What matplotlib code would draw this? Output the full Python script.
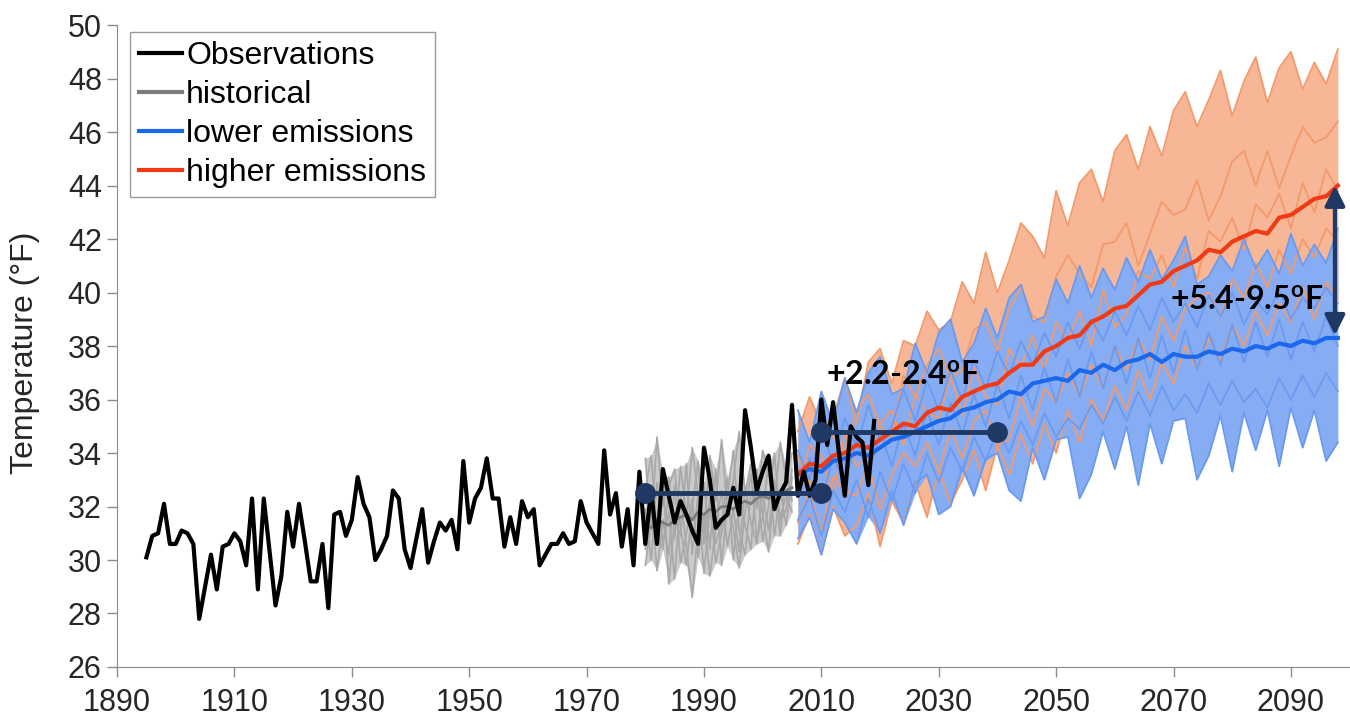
import matplotlib
matplotlib.use('Agg')
import matplotlib.pyplot as plt
import numpy as np

plt.rcParams['font.family'] = ['Liberation Sans', 'DejaVu Sans']
plt.rcParams['mathtext.fontset'] = 'custom'
plt.rcParams['mathtext.bf'] = 'Lato:bold'
plt.rcParams['mathtext.rm'] = 'Lato'

# observed annual mean temperature, 1895-2019
obs_years = np.arange(1895, 2020)
obs_temp = [30.1, 30.9, 31.0, 32.1, 30.6, 30.6, 31.1, 31.0, 30.6, 27.8,
            29.0, 30.2, 28.9, 30.5, 30.6, 31.0, 30.7, 29.8, 32.3, 28.9,
            32.3, 30.3, 28.3, 29.4, 31.8, 30.5, 32.1, 30.7, 29.2, 29.2,
            30.6, 28.2, 31.7, 31.8, 30.9, 31.5, 33.1, 32.1, 31.6, 30.0,
            30.4, 30.9, 32.6, 32.3, 30.4, 29.7, 30.8, 31.9, 29.9, 30.7,
            31.4, 31.1, 31.5, 30.4, 33.7, 31.4, 32.3, 32.7, 33.8, 32.3,
            32.3, 30.5, 31.6, 30.6, 32.2, 31.6, 31.9, 29.8, 30.2, 30.6,
            30.6, 31.0, 30.6, 30.7, 32.2, 31.4, 31.0, 30.6, 34.1, 31.7,
            32.5, 30.5, 31.9, 29.8, 33.3, 30.6, 32.6, 30.6, 33.4, 32.4,
            31.4, 32.2, 31.7, 31.1, 30.6, 34.2, 33.0, 31.2, 31.5, 31.7,
            32.7, 31.7, 35.6, 34.2, 32.6, 33.3, 33.9, 31.9, 32.5, 32.9,
            35.8, 32.4, 33.3, 32.4, 33.0, 36.0, 34.3, 35.9, 34.0, 32.4,
            35.0, 34.6, 34.4, 32.8, 35.2]

# historical model runs 1980-2005
hist_years = np.arange(1980, 2006)
hist_runs = [
    [33.8, 31.2, 34.6, 32.0, 33.1, 30.8, 33.5, 31.6, 34.2, 32.4, 31.0, 33.9, 32.2,
     34.5, 31.8, 33.0, 34.8, 32.5, 33.6, 31.9, 34.1, 33.2, 32.0, 34.4, 33.0, 34.0],
    [30.4, 32.1, 29.6, 31.5, 30.2, 32.8, 29.9, 31.0, 32.3, 30.1, 31.7, 29.4, 31.2,
     32.6, 30.5, 31.9, 30.3, 32.7, 31.4, 30.6, 32.5, 31.1, 33.0, 31.6, 32.4, 31.8],
    [31.9, 30.0, 32.9, 30.6, 31.8, 29.3, 32.4, 30.5, 28.6, 31.3, 32.9, 30.4, 33.4,
     29.8, 32.1, 31.2, 29.7, 31.8, 33.2, 30.8, 31.6, 33.7, 30.9, 32.6, 31.3, 33.1],
    [29.8, 31.4, 30.7, 33.2, 29.1, 31.6, 30.9, 33.6, 30.2, 32.5, 29.5, 31.9, 30.6,
     31.4, 33.1, 30.0, 32.2, 31.3, 30.4, 33.4, 31.7, 30.3, 32.8, 30.9, 33.5, 32.2],
    [32.6, 33.9, 31.0, 30.4, 32.7, 33.4, 31.2, 29.8, 31.9, 33.7, 30.6, 32.3, 29.9,
     31.0, 32.4, 34.1, 31.1, 30.2, 32.5, 32.9, 30.7, 32.0, 34.0, 31.4, 31.9, 33.4],
]
hist_mean = [31.3, 31.2, 31.5, 31.4, 31.3, 31.5, 31.6, 31.7, 31.5, 31.8, 31.7, 31.9, 31.8,
             32.0, 32.0, 31.9, 32.1, 32.2, 32.1, 32.3, 32.4, 32.3, 32.5, 32.4, 32.6, 32.7]

# scenario runs, every second year 2006-2098
fut_years = np.arange(2006, 2100, 2)
high_mean = [33.2, 33.6, 33.5, 33.9, 34.0, 34.3, 34.2, 34.5, 34.8, 35.1,
             35.0, 35.5, 35.7, 35.6, 36.1, 36.3, 36.5, 36.6, 37.0, 37.3,
             37.3, 37.8, 38.0, 38.3, 38.4, 38.9, 39.1, 39.4, 39.5, 39.9,
             40.3, 40.4, 40.8, 41.0, 41.2, 41.6, 41.5, 41.9, 42.1, 42.3,
             42.2, 42.8, 42.9, 43.2, 43.5, 43.6, 44.0]
low_mean = [33.2, 33.4, 33.3, 33.7, 33.8, 34.0, 33.9, 34.2, 34.5, 34.6,
            34.8, 35.0, 35.2, 35.3, 35.6, 35.7, 35.9, 36.0, 36.3, 36.2,
            36.6, 36.7, 36.8, 36.7, 37.1, 37.0, 37.3, 37.1, 37.4, 37.5,
            37.7, 37.4, 37.7, 37.6, 37.6, 37.8, 37.7, 37.9, 37.8, 38.0,
            37.9, 38.1, 38.0, 38.2, 38.1, 38.3, 38.3]
high_runs = [
    [34.8, 36.1, 35.0, 35.3, 36.8, 35.1, 37.4, 37.9, 36.6, 38.2,
     38.0, 39.3, 38.6, 38.9, 40.4, 39.6, 41.5, 40.0, 41.2, 42.6,
     42.1, 41.3, 43.8, 42.5, 44.1, 44.6, 43.4, 45.3, 45.9, 44.6,
     46.2, 45.1, 46.8, 47.5, 46.2, 47.2, 48.3, 46.6, 47.9, 48.8,
     47.1, 48.4, 49.0, 47.6, 48.6, 47.8, 49.1],
    [33.9, 32.8, 35.2, 34.6, 34.1, 35.6, 36.2, 35.0, 34.6, 36.9,
     36.1, 37.3, 37.9, 36.8, 37.1, 38.6, 38.9, 37.8, 39.4, 40.2,
     39.1, 38.9, 40.6, 41.4, 40.7, 40.2, 41.8, 41.9, 42.6, 41.0,
     42.2, 43.4, 42.9, 43.1, 44.2, 42.7, 43.6, 44.9, 45.3, 44.0,
     45.3, 43.9, 45.1, 46.2, 45.6, 45.8, 46.4],
    [32.6, 34.3, 33.9, 32.4, 34.8, 33.5, 33.9, 35.1, 35.6, 34.3,
     36.2, 35.5, 35.3, 36.9, 35.4, 37.2, 36.1, 35.8, 37.9, 37.2,
     38.4, 37.1, 38.9, 38.2, 39.3, 38.0, 40.1, 38.7, 39.2, 40.8,
     40.5, 41.4, 40.2, 41.7, 40.5, 42.3, 41.9, 42.8, 41.6, 43.3,
     42.8, 43.7, 42.4, 44.1, 43.0, 44.6, 43.8],
    [31.4, 32.6, 31.0, 33.1, 32.6, 32.4, 33.6, 31.9, 33.2, 34.0,
     33.5, 34.4, 33.3, 34.9, 33.8, 35.2, 35.6, 34.3, 34.5, 36.1,
     35.0, 36.4, 35.9, 37.0, 36.1, 37.3, 36.4, 38.0, 37.1, 38.3,
     37.5, 39.1, 38.2, 39.4, 39.8, 40.0, 39.1, 40.5, 39.8, 41.1,
     40.2, 41.6, 40.7, 42.0, 41.3, 42.4, 41.9],
    [30.6, 31.7, 30.2, 32.0, 30.9, 31.3, 32.5, 30.5, 32.2, 31.4,
     32.9, 31.6, 33.4, 32.1, 33.0, 34.1, 32.6, 34.3, 33.2, 34.7,
     33.6, 35.1, 34.0, 35.6, 34.4, 36.0, 35.2, 36.5, 35.6, 37.1,
     36.0, 37.4, 36.6, 38.0, 37.1, 38.3, 37.5, 38.8, 38.0, 39.3,
     38.4, 39.6, 38.9, 40.2, 39.0, 40.4, 39.8],
]
low_runs = [
    [35.6, 34.4, 36.3, 35.1, 36.8, 35.5, 37.0, 37.6, 36.2, 36.4,
     38.1, 37.0, 38.5, 39.0, 37.4, 38.1, 39.4, 38.3, 39.8, 40.3,
     38.9, 39.1, 40.5, 39.6, 41.0, 39.8, 40.9, 40.1, 41.3, 40.4,
     41.6, 40.5, 41.2, 42.1, 40.3, 40.6, 41.4, 40.8, 42.0, 40.9,
     41.6, 40.7, 42.2, 41.0, 41.8, 41.1, 42.4],
    [34.1, 33.0, 34.9, 33.6, 35.3, 34.2, 35.8, 34.5, 35.0, 36.4,
     35.2, 36.7, 35.6, 37.1, 36.0, 37.5, 36.4, 37.8, 36.9, 38.2,
     37.3, 38.5, 37.6, 38.9, 37.9, 39.0, 38.2, 39.3, 38.4, 39.5,
     38.6, 39.8, 38.9, 39.6, 38.7, 39.9, 39.1, 40.0, 38.8, 39.7,
     39.2, 40.1, 39.0, 39.8, 39.4, 40.2, 39.6],
    [32.4, 33.8, 32.1, 33.9, 32.8, 34.5, 33.1, 34.8, 33.5, 35.1,
     33.9, 35.6, 34.3, 35.9, 34.7, 36.2, 35.0, 36.6, 35.3, 36.9,
     35.6, 37.2, 35.9, 37.5, 36.1, 37.8, 36.4, 38.0, 36.6, 38.3,
     36.8, 38.4, 37.0, 38.6, 37.1, 38.5, 37.3, 38.8, 37.4, 38.9,
     37.6, 39.0, 37.5, 38.9, 37.8, 39.1, 38.0],
    [31.5, 32.4, 30.9, 32.6, 31.8, 33.0, 31.6, 33.3, 32.2, 33.6,
     32.5, 34.0, 32.9, 34.2, 33.3, 34.6, 33.7, 34.9, 34.0, 35.2,
     34.3, 35.5, 34.6, 35.3, 34.9, 35.8, 35.1, 36.1, 35.2, 36.3,
     35.4, 36.5, 35.6, 36.2, 35.5, 36.6, 35.8, 36.7, 35.9, 36.4,
     35.7, 36.8, 36.0, 36.9, 36.1, 37.0, 36.3],
    [30.8, 31.6, 30.2, 31.9, 31.4, 30.6, 32.3, 31.0, 32.6, 31.3,
     32.9, 33.2, 31.7, 32.0, 33.5, 32.4, 33.8, 34.0, 32.6, 32.2,
     34.2, 33.0, 34.5, 34.6, 32.3, 33.2, 34.8, 33.4, 35.0, 32.8,
     35.1, 33.6, 35.2, 35.3, 33.0, 33.9, 35.4, 33.3, 35.5, 34.1,
     35.6, 33.5, 35.7, 34.2, 35.6, 33.7, 34.4],
]

# annotations
bar1_years, bar1_level = [1980, 2010], 32.5
bar2_years, bar2_level = [2010, 2040], 34.8
arrow_year, arrow_top, arrow_bot = 2097.5, 44.0, 38.4

navy = '#203864'
gray_run, gray_mean = '#a8a8a8', '#7d7d7d'
orange_run, red_mean = '#f4996a', '#f03a16'
blue_run, blue_mean = '#6a9af0', '#1c68ec'

fig = plt.figure(figsize=(13.5, 7.21), dpi=100)
ax = fig.add_axes([0.0867, 0.0749, 0.913, 0.8904])

# ensemble spread filled between the lowest and highest run
hist_arr = np.array(hist_runs)
ax.fill_between(hist_years, hist_arr.min(axis=0), hist_arr.max(axis=0),
                color=gray_run, alpha=0.6, lw=0)
for run in hist_runs:
    ax.plot(hist_years, run, color=gray_run, lw=1.2)
ax.plot(hist_years, hist_mean, color=gray_mean, lw=2)

high_arr = np.array(high_runs)
low_arr = np.array(low_runs)
ax.fill_between(fut_years, high_arr.min(axis=0), high_arr.max(axis=0),
                color=orange_run, alpha=0.7, lw=0)
ax.fill_between(fut_years, low_arr.min(axis=0), low_arr.max(axis=0),
                color='#86adf3', lw=0)
for run in high_runs:
    ax.plot(fut_years, run, color=orange_run, lw=1.3)
for run in low_runs:
    ax.plot(fut_years, run, color=blue_run, lw=1.3)

ax.plot(fut_years, low_mean, color=blue_mean, lw=3)
ax.plot(fut_years, high_mean, color=red_mean, lw=3)
ax.plot(obs_years, obs_temp, color='black', lw=3)

ax.plot(bar1_years, [bar1_level] * 2, '-o', color=navy, lw=3.5, ms=14, zorder=5)
ax.plot(bar2_years, [bar2_level] * 2, '-o', color=navy, lw=3.5, ms=14, zorder=5)
ax.annotate('', xy=(arrow_year, arrow_top), xytext=(arrow_year, arrow_bot),
            arrowprops=dict(arrowstyle='<|-|>', color=navy, lw=3, mutation_scale=30,
                            shrinkA=0, shrinkB=0), zorder=6)
ax.text(2010.8, 36.9, r'+2.2-2.4$^{\mathbf{o}}$F', family='Lato', fontweight='bold',
        fontsize=23, va='center', ha='left', zorder=7)
ax.text(2069.4, 39.7, r'+5.4-9.5$^{\mathbf{o}}$F', family='Lato', fontweight='bold',
        fontsize=23, va='center', ha='left', zorder=7)

# legend proxies
ax.plot([], [], color='black', lw=3, label='Observations')
ax.plot([], [], color=gray_mean, lw=3, label='historical')
ax.plot([], [], color=blue_mean, lw=3, label='lower emissions')
ax.plot([], [], color=red_mean, lw=3, label='higher emissions')
handles, labels = ax.get_legend_handles_labels()
leg = ax.legend(handles[-4:], labels[-4:], loc='upper left', bbox_to_anchor=(0.0106, 0.989),
                borderaxespad=0, fontsize=23, frameon=True, fancybox=False,
                edgecolor='#9a9a9a', framealpha=1, handlelength=1.35, handletextpad=0.12,
                labelspacing=0.28, borderpad=0.28)
leg.get_frame().set_linewidth(1)

ax.set_xlim(1890, 2100)
ax.set_ylim(26, 50)
ax.set_xticks(np.arange(1890, 2100, 20))
ax.set_yticks(np.arange(26, 51, 2))
ax.tick_params(direction='out', length=7, width=1, color='#8c8c8c', labelsize=22,
               labelcolor='#262626')
ax.tick_params(axis='x', pad=8)
ax.tick_params(axis='y', pad=4)
for side in ['top', 'right']:
    ax.spines[side].set_visible(False)
for side in ['left', 'bottom']:
    ax.spines[side].set_color('#8c8c8c')
ax.set_ylabel('Temperature (°F)', fontsize=23, color='#262626')
ax.yaxis.set_label_coords(-0.0625, 0.49)

fig.savefig('out.png', dpi=100)
